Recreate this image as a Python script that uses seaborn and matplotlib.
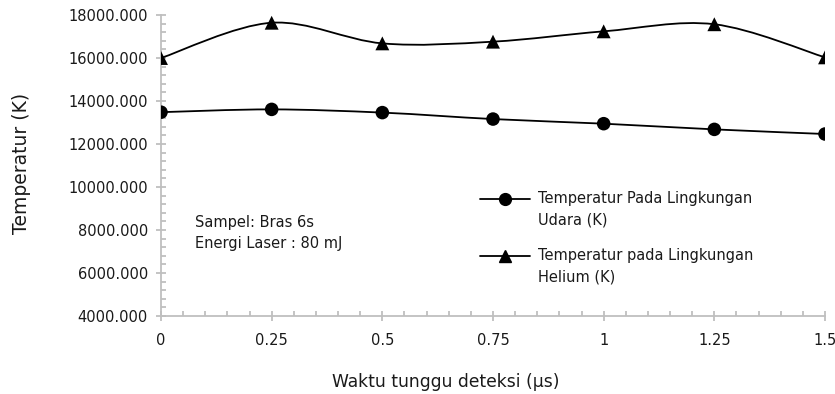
import numpy as np
import pandas as pd
import seaborn as sns
import matplotlib
matplotlib.use("Agg")
import matplotlib.pyplot as plt
from matplotlib.path import Path
from matplotlib.patches import PathPatch
from matplotlib.lines import Line2D
from matplotlib.legend_handler import HandlerLine2D
from matplotlib.ticker import MultipleLocator, FormatStrFormatter

# ---- data ----
waktu = [0, 0.25, 0.5, 0.75, 1.0, 1.25, 1.5]
temp_udara = [13480, 13610, 13460, 13160, 12945, 12680, 12465]
temp_helium = [16000, 17640, 16680, 16760, 17240, 17570, 16030]
x_ticks = [0, 0.25, 0.5, 0.75, 1, 1.25, 1.5]
x_tick_labels = ["0", "0.25", "0.5", "0.75", "1", "1.25", "1.5"]
series_labels = ["Temperatur Pada Lingkungan\nUdara (K)",
                 "Temperatur pada Lingkungan\nHelium (K)"]
x_label = "Waktu tunggu deteksi (µs)"
y_label = "Temperatur (K)"
note_lines = ["Sampel: Bras 6s", "Energi Laser : 80 mJ"]

sns.set_theme(style="white")
plt.rcParams['font.family'] = ['DejaVu Sans']
plt.rcParams['text.color'] = '#1a1a1a'

W, H = 835, 394
fig = plt.figure(figsize=(W / 100, H / 100), dpi=100)
ax = fig.add_axes([161 / W, 1 - 316 / H, (825 - 161) / W, (316 - 15) / H])

df = pd.DataFrame({"waktu": waktu, "udara": temp_udara, "helium": temp_helium})


def smooth_path(xs, ys):
    pts = np.column_stack([xs, ys]).astype(float)
    n = len(pts)
    verts = [pts[0]]
    codes = [Path.MOVETO]
    for i in range(n - 1):
        p0 = pts[max(i - 1, 0)]
        p1 = pts[i]
        p2 = pts[i + 1]
        p3 = pts[min(i + 2, n - 1)]
        c1 = p1 + (p2 - p0) / 6.0
        c2 = p2 - (p3 - p1) / 6.0
        verts += [c1, c2, p2]
        codes += [Path.CURVE4] * 3
    return Path(verts, codes)


for col in ["udara", "helium"]:
    ax.add_patch(PathPatch(smooth_path(df["waktu"], df[col]), facecolor="none",
                           edgecolor="black", lw=1.3, zorder=2))

sns.scatterplot(data=df, x="waktu", y="udara", marker="o", s=95, color="black",
                edgecolor="none", ax=ax, zorder=3, legend=False)
sns.scatterplot(data=df, x="waktu", y="helium", marker="^", s=100, color="black",
                edgecolor="none", ax=ax, zorder=3, legend=False)

ax.set_xlim(0, 1.5)
ax.set_ylim(4000, 18000)
ax.set_xticks(x_ticks)
ax.set_xticklabels(x_tick_labels)
ax.xaxis.set_minor_locator(MultipleLocator(0.05))
ax.yaxis.set_major_locator(MultipleLocator(2000))
ax.yaxis.set_minor_locator(MultipleLocator(400))
ax.yaxis.set_major_formatter(FormatStrFormatter("%.3f"))

gray = "#BFBFBF"
for s in ["top", "right"]:
    ax.spines[s].set_visible(False)
for s in ["left", "bottom"]:
    ax.spines[s].set_color(gray)
    ax.spines[s].set_linewidth(1.3)

ax.tick_params(which="major", direction="inout", length=7, width=1.3, color=gray,
               labelsize=10.5, labelcolor="#1a1a1a", pad=6,
               bottom=True, left=True)
ax.tick_params(which="minor", direction="in", length=3.5, width=1.3, color=gray,
               bottom=True, left=True)
ax.tick_params(axis="x", pad=9)

ax.set_xlabel("")
ax.set_ylabel("")
fig.text(446 / W, 1 - 382 / H, x_label, ha="center", va="center", fontsize=12.3)
fig.text(22 / W, 1 - 163 / H, y_label, ha="center", va="center", rotation=90,
         fontsize=13.5)

fig.text(195 / W, 1 - 226.5 / H, note_lines[0], ha="left", va="baseline", fontsize=10.5)
fig.text(195 / W, 1 - 248 / H, note_lines[1], ha="left", va="baseline", fontsize=10.5)


class ShiftedHandler(HandlerLine2D):
    def __init__(self, dy=0.0, **kw):
        super().__init__(**kw)
        self.dy = dy

    def create_artists(self, legend, orig_handle, xdescent, ydescent, width,
                       height, fontsize, trans):
        arts = super().create_artists(legend, orig_handle, xdescent, ydescent,
                                      width, height, fontsize, trans)
        for a in arts:
            a.set_ydata(np.asarray(a.get_ydata(), dtype=float) + self.dy)
        return arts


handles = [
    Line2D([], [], color="black", lw=1.3, marker="o", markersize=8.5),
    Line2D([], [], color="black", lw=1.3, marker="^", markersize=8.5),
]
leg = fig.legend(handles, series_labels, loc="upper left",
                 bbox_to_anchor=(480 / W, 1 - 191 / H), frameon=False, fontsize=10.5,
                 handlelength=3.4, handletextpad=0.55, labelspacing=1.45,
                 borderaxespad=0, borderpad=0,
                 handler_map={Line2D: ShiftedHandler(dy=7.8)})
for t in leg.get_texts():
    t.set_linespacing(1.5)
    t.set_color("#1a1a1a")

fig.savefig("out.png", dpi=100)
